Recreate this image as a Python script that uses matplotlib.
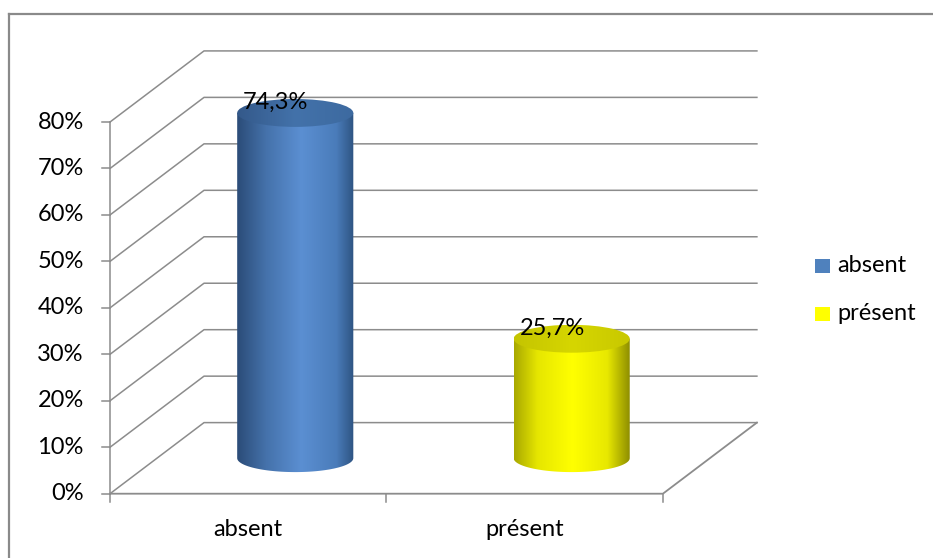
import numpy as np
import matplotlib.pyplot as plt
from matplotlib.patches import Ellipse, Rectangle, Polygon
from matplotlib.colors import LinearSegmentedColormap

categories = ["absent", "présent"]
values = [74.3, 25.7]
labels = ["74,3%", "25,7%"]
yticks = [0, 10, 20, 30, 40, 50, 60, 70, 80]
ytick_labels = ["0%", "10%", "20%", "30%", "40%", "50%", "60%", "70%", "80%"]

plt.rcParams["font.family"] = ["Lato", "DejaVu Sans"]
FS = 17

# 3d look: depth offset of the back wall in data units
DX, DY = 0.34, 15.3
GRID = "#8c8c8c"

fig = plt.figure(figsize=(9.33, 5.58), dpi=100)
ax = fig.add_axes([0, 0, 1, 1])
ax.set_xlim(-0.398, 2.977)
ax.set_ylim(-13.84, 106.26)
ax.axis("off")

# outer frame (only top and left edges are visible)
fig.add_artist(plt.Line2D([9 / 933, 9 / 933], [0, 1 - 14 / 558], color="#8a8a8a", lw=1.6))
fig.add_artist(plt.Line2D([9 / 933, 1], [1 - 14 / 558, 1 - 14 / 558], color="#8a8a8a", lw=1.6))

# side wall, back wall and floor
for v in yticks:
    ax.plot([0, DX, 2 + DX], [v, v + DY, v + DY], color=GRID, lw=1.1, zorder=1)
ax.plot([0, 0], [0, yticks[-1]], color=GRID, lw=1.1, zorder=1)
ax.plot([0, 2, 2 + DX], [0, 0, DY], color=GRID, lw=1.3, zorder=1)
for v, lab in zip(yticks, ytick_labels):
    ax.plot([-0.03, 0], [v, v], color=GRID, lw=1.1)
    ax.text(-0.095, v, lab, ha="right", va="center", fontsize=FS)
for x in [0, 1, 2]:
    ax.plot([x, x], [0, -1.8], color=GRID, lw=1.1)
for i, c in enumerate(categories):
    ax.text(i + 0.5, -7.6, c, ha="center", va="center", fontsize=FS)

cmaps = [
    LinearSegmentedColormap.from_list("b", [(0, "#2b4c78"), (0.25, "#4572ab"), (0.55, "#5b8fd2"),
                                            (0.85, "#4a7cba"), (1, "#2e5482")]),
    LinearSegmentedColormap.from_list("y", [(0, "#a8a800"), (0.2, "#e6e600"), (0.5, "#ffff00"),
                                            (0.8, "#e8e800"), (1, "#8a8a00")]),
]
top_cmaps = [
    LinearSegmentedColormap.from_list("bt", ["#34598a", "#4372aa", "#3d6aa0"]),
    LinearSegmentedColormap.from_list("yt", ["#c4c400", "#d6d600", "#c8c800"]),
]
legend_colors = ["#4f81bd", "#ffff00"]

bw = 0.42   # cylinder width
eh = 6.0    # ellipse height (percent units)
grad = np.linspace(0, 1, 256).reshape(1, -1)
for i, v in enumerate(values):
    xc = i + 0.5 + DX / 2
    y0 = DY / 2
    y1 = v + DY / 2
    t = np.linspace(np.pi, 2 * np.pi, 60)
    arc = np.column_stack([xc + bw / 2 * np.cos(t), y0 + eh / 2 * np.sin(t)])
    pts = np.vstack([[xc - bw / 2, y1], arc, [xc + bw / 2, y1]])
    body = Polygon(pts, closed=True, fc="none", ec="none")
    ax.add_patch(body)
    im = ax.imshow(grad, cmap=cmaps[i], aspect="auto", zorder=3,
                   extent=[xc - bw / 2, xc + bw / 2, y0 - eh, y1])
    im.set_clip_path(body)
    top = Ellipse((xc, y1), bw, eh, fc="none", ec="none")
    ax.add_patch(top)
    tim = ax.imshow(grad, cmap=top_cmaps[i], aspect="auto", zorder=4,
                    extent=[xc - bw / 2, xc + bw / 2, y1 - eh / 2, y1 + eh / 2])
    tim.set_clip_path(top)
    ax.text(i + 0.5 + 0.1, y1 + 2.3, labels[i], ha="center", va="center", fontsize=FS, zorder=5)

# legend
for i, c in enumerate(categories):
    y = (493.7 - (266 + 48 * i)) / 4.646
    ax.add_patch(Rectangle(((815 - 110) / 276.5, y - 1.55), 15 / 276.5, 3.1,
                           fc=legend_colors[i], ec="none"))
    ax.text((837 - 110) / 276.5, y, c, ha="left", va="center", fontsize=FS)

fig.savefig("out.png", dpi=100)
